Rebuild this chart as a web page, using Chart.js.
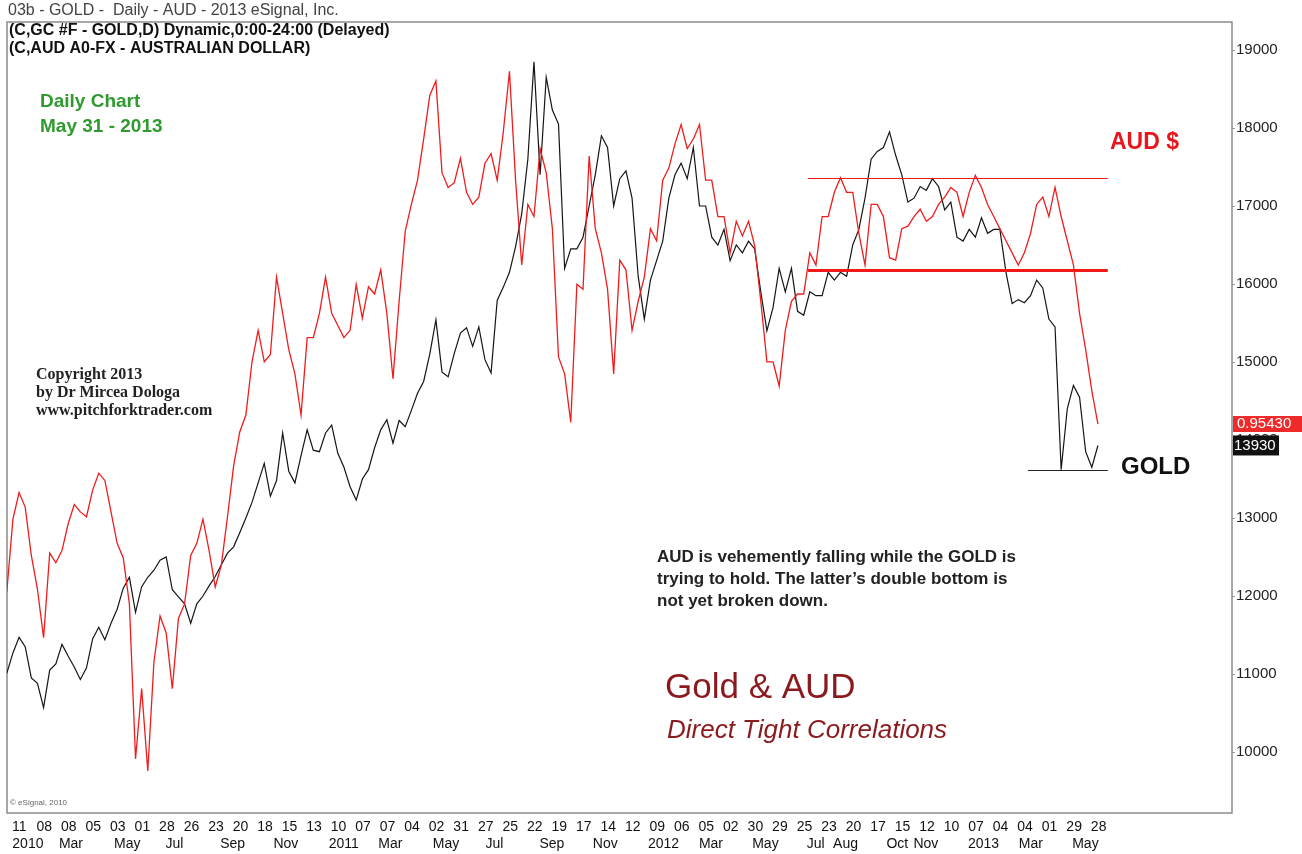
<!DOCTYPE html>
<html>
<head>
<meta charset="utf-8">
<script src="https://cdn.jsdelivr.net/npm/chart.js@4.4.1/dist/chart.umd.min.js"></script>
<style>
  html, body { margin: 0; padding: 0; background: #fff; }
  #wrap { width: 1302px; height: 854px; }
</style>
</head>
<body>
<div id="wrap"><canvas id="chart" width="1302" height="854"></canvas></div>
<script>
// weekly samples, first one sits 1.5 weeks before the "11" (Jan 11 2010) label
const firstWeek = -1.5;

// GC #F, in the chart's axis units (price x 10)
const goldWeekly = [
  11010, 11270, 11470, 11350, 10950, 10880, 10570, 11050, 11130, 11380,
  11230, 11090, 10930, 11080, 11450, 11600, 11440, 11650, 11830, 12100,
  12240, 11790, 12120, 12240, 12330, 12460, 12500, 12080, 11990, 11900,
  11650, 11900, 12000, 12130, 12250, 12400, 12550, 12630, 12810, 13000,
  13200, 13450, 13700, 13280, 13480, 14090, 13600, 13450, 13800, 14130,
  13870, 13850, 14090, 14190, 13830, 13650, 13400, 13230, 13500, 13620,
  13900, 14130, 14260, 13960, 14250, 14170, 14380, 14600, 14750, 15100,
  15540, 14870, 14810, 15110, 15370, 15440, 15200, 15450, 15030, 14860,
  15790, 15960, 16150, 16480, 16900, 17600, 18850, 17400, 18650, 18230,
  18050, 16200, 16450, 16450, 16600, 17000, 17400, 17900, 17750, 17000,
  17350, 17450, 17100, 16100, 15550, 16050, 16300, 16550, 17100, 17400,
  17550, 17350, 17750, 17000, 17000, 16600, 16500, 16700, 16300, 16500,
  16400, 16550, 16450, 15900, 15400, 15700, 16200, 15900, 16200, 15650,
  15600, 15900, 15850, 15850, 16150, 16050, 16150, 16100, 16500, 16700,
  17100, 17600, 17700, 17750, 17950, 17650, 17400, 17050, 17100, 17250,
  17200, 17350, 17250, 16950, 17050, 16600, 16550, 16700, 16600, 16850,
  16650, 16700, 16700, 16150, 15750, 15800, 15760, 15850, 16050, 15950,
  15550, 15450, 13620, 14400, 14700, 14550, 13850, 13650, 13930
];

// AUD A0-FX
const audWeekly = [
  0.885, 0.915, 0.926, 0.920, 0.900, 0.886, 0.866, 0.901, 0.897, 0.902,
  0.913, 0.921, 0.918, 0.916, 0.927, 0.934, 0.931, 0.918, 0.905, 0.899,
  0.880, 0.816, 0.845, 0.811, 0.856, 0.875, 0.868, 0.845, 0.874, 0.880,
  0.900, 0.905, 0.915, 0.902, 0.887, 0.896, 0.916, 0.937, 0.951, 0.958,
  0.980, 0.993, 0.980, 0.983, 1.015, 1.000, 0.985, 0.975, 0.958, 0.990,
  0.990, 1.000, 1.015, 1.000, 0.995, 0.990, 0.993, 1.012, 0.998, 1.011,
  1.008, 1.018, 1.000, 0.973, 1.005, 1.034, 1.045, 1.055, 1.072, 1.090,
  1.096, 1.058, 1.052, 1.054, 1.064, 1.050, 1.045, 1.048, 1.062, 1.066,
  1.055, 1.075, 1.100, 1.055, 1.020, 1.045, 1.040, 1.068, 1.058, 1.035,
  0.982, 0.975, 0.955, 1.012, 1.010, 1.065, 1.035, 1.025, 1.010, 0.975,
  1.022, 1.018, 0.993, 1.005, 1.015, 1.035, 1.030, 1.055, 1.060, 1.070,
  1.078, 1.068, 1.072, 1.078, 1.055, 1.055, 1.040, 1.040, 1.025, 1.038,
  1.032, 1.038, 1.028, 1.005, 0.980, 0.980, 0.970, 0.993, 1.005, 1.008,
  1.008, 1.025, 1.020, 1.040, 1.040, 1.050, 1.056, 1.050, 1.050, 1.033,
  1.020, 1.045, 1.045, 1.040, 1.023, 1.022, 1.035, 1.036, 1.040, 1.043,
  1.038, 1.040, 1.045, 1.048, 1.052, 1.050, 1.040, 1.050, 1.057, 1.052,
  1.045, 1.040, 1.035, 1.030, 1.025, 1.020, 1.025, 1.033, 1.045, 1.048,
  1.040, 1.052, 1.040, 1.030, 1.020, 1.000, 0.985, 0.968, 0.9543
];

// date row (every 4 weeks) and month row of the time axis
const dayLabels = ['11','08','08','05','03','01','28','26','23','20','18','15','13',
  '10','07','07','04','02','31','27','25','22','19','17','14','12',
  '09','06','05','02','30','29','25','23','20','17','15','12','10',
  '07','04','04','01','29','28'];
const monthLabels = ['2010','Mar','May','Jul','Sep','Nov','2011','Mar','May','Jul','Sep','Nov',
  '2012','Mar','May','Jul','Aug','Oct','Nov','2013','Mar','May'];
const monthWeeks = [-0.6, 7.0, 16.0, 24.4, 33.3, 42.0, 51.0, 59.1, 68.0, 76.6, 85.4, 94.1,
  103.1, 111.4, 120.1, 129.0, 133.3, 142.0, 146.4, 155.3, 163.6, 172.3];
const goldTicks = [10000, 11000, 12000, 13000, 14000, 15000, 16000, 17000, 18000, 19000];

// hand drawn levels
const audChannel = [1.056, 1.018];
const channelSpan = [129.2, 178.1];
const goldFloor = 13616;
const floorSpan = [165.1, 178.1];

const FONT = "'Liberation Sans', Arial, sans-serif";

const overlay = {
  id: 'overlay',
  beforeDatasetsDraw(chart) {
    const { ctx, chartArea: a } = chart;
    ctx.save();
    ctx.strokeStyle = '#8c8c8c';
    ctx.lineWidth = 1.5;
    ctx.strokeRect(a.left, a.top, a.right - a.left, a.bottom - a.top);
    ctx.restore();
  },
  afterDatasetsDraw(chart) {
    const { ctx, scales } = chart;
    const x = scales.x, y2 = scales.y2, y = scales.y;
    ctx.save();
    ctx.strokeStyle = '#f01818';
    audChannel.forEach((v, i) => {
      ctx.lineWidth = i === 0 ? 1.2 : 3;
      const py = Math.round(y2.getPixelForValue(v)) + 0.5;
      ctx.beginPath();
      ctx.moveTo(x.getPixelForValue(channelSpan[0]), py);
      ctx.lineTo(x.getPixelForValue(channelSpan[1]), py);
      ctx.stroke();
    });
    ctx.strokeStyle = '#222';
    ctx.lineWidth = 1.2;
    const gy = Math.round(y.getPixelForValue(goldFloor)) + 0.5;
    ctx.beginPath();
    ctx.moveTo(x.getPixelForValue(floorSpan[0]), gy);
    ctx.lineTo(x.getPixelForValue(floorSpan[1]), gy);
    ctx.stroke();
    ctx.restore();
  },
  afterDraw(chart) {
    const { ctx, chartArea: a, scales } = chart;
    ctx.save();
    ctx.textBaseline = 'middle';
    ctx.textAlign = 'left';

    // header
    ctx.fillStyle = '#444';
    ctx.font = '16px ' + FONT;
    ctx.fillText('03b - GOLD -  Daily - AUD - 2013 eSignal, Inc.', 8, 11);
    ctx.fillStyle = '#111';
    ctx.font = 'bold 16px ' + FONT;
    ctx.fillText('(C,GC #F - GOLD,D) Dynamic,0:00-24:00 (Delayed)', 9, 31);
    ctx.fillText('(C,AUD A0-FX - AUSTRALIAN DOLLAR)', 9, 49);

    ctx.fillStyle = '#2f9a2f';
    ctx.font = 'bold 19px ' + FONT;
    ctx.fillText('Daily Chart', 40, 102);
    ctx.fillText('May 31 - 2013', 40, 127);

    ctx.fillStyle = '#222';
    ctx.font = "bold 16px 'Liberation Serif', 'Times New Roman', serif";
    ctx.fillText('Copyright 2013', 36, 375);
    ctx.fillText('by Dr Mircea Dologa', 36, 393);
    ctx.fillText('www.pitchforktrader.com', 36, 411);

    ctx.fillStyle = '#e8161c';
    ctx.font = 'bold 23px ' + FONT;
    ctx.fillText('AUD $', 1110, 143);
    ctx.fillStyle = '#111';
    ctx.font = 'bold 24px ' + FONT;
    ctx.fillText('GOLD', 1121, 467);

    ctx.fillStyle = '#222';
    ctx.font = 'bold 17px ' + FONT;
    ctx.fillText('AUD is vehemently falling while the GOLD is', 657, 557);
    ctx.fillText('trying to hold. The latter\u2019s double bottom is', 657, 579);
    ctx.fillText('not yet broken down.', 657, 601);

    ctx.fillStyle = '#8b1a1e';
    ctx.font = '35px ' + FONT;
    ctx.fillText('Gold & AUD', 665, 688);
    ctx.font = 'italic 26px ' + FONT;
    ctx.fillText('Direct Tight Correlations', 667, 731);

    ctx.fillStyle = '#666';
    ctx.font = '8px ' + FONT;
    ctx.fillText('\u00a9 eSignal, 2010', 10, 803);

    // last value boxes on the price axis
    const audLast = audWeekly[audWeekly.length - 1];
    const goldLast = goldWeekly[goldWeekly.length - 1];
    const ay = scales.y2.getPixelForValue(audLast);
    const gy = scales.y.getPixelForValue(goldLast);
    ctx.fillStyle = '#ee2a2a';
    ctx.fillRect(a.right + 1, ay - 8, 70, 16);
    ctx.fillStyle = '#111';
    ctx.fillRect(a.right + 1, gy - 10, 46, 20);
    ctx.font = '15px ' + FONT;
    ctx.fillStyle = '#fff';
    ctx.fillText(audLast.toFixed(5), a.right + 5, ay);
    ctx.fillText(String(goldLast), a.right + 2, gy);
    ctx.restore();
  }
};

new Chart(document.getElementById('chart'), {
  type: 'line',
  data: {
    datasets: [
      {
        label: 'GOLD',
        data: goldWeekly.map((v, i) => ({ x: firstWeek + i, y: v })),
        xAxisID: 'x',
        yAxisID: 'y',
        borderColor: '#151515',
        borderWidth: 1.2,
        pointRadius: 0,
        tension: 0,
        order: 2
      },
      {
        label: 'AUD',
        data: audWeekly.map((v, i) => ({ x: firstWeek + i, y: v })),
        xAxisID: 'x',
        yAxisID: 'y2',
        borderColor: '#f01c1c',
        borderWidth: 1.3,
        pointRadius: 0,
        tension: 0,
        order: 1
      }
    ]
  },
  options: {
    responsive: false,
    animation: false,
    devicePixelRatio: 1,
    layout: { padding: { top: 22, left: 7, right: 0, bottom: 0 } },
    plugins: {
      legend: { display: false },
      tooltip: { enabled: false }
    },
    scales: {
      x: {
        type: 'linear',
        position: 'bottom',
        weight: 0,
        min: -1.468,
        max: 198.37,
        afterBuildTicks: (s) => { s.ticks = dayLabels.map((_, i) => ({ value: i * 4 })); },
        afterFit: (s) => { s.height = 22; },
        grid: { display: false, drawTicks: false },
        border: { display: false },
        ticks: {
          autoSkip: false,
          maxRotation: 0,
          align: 'start',
          labelOffset: -4,
          padding: 6,
          color: '#111',
          font: { family: FONT, size: 14 },
          callback: (v, i) => dayLabels[i]
        }
      },
      x2: {
        type: 'linear',
        position: 'bottom',
        weight: 1,
        min: -1.468,
        max: 198.37,
        afterBuildTicks: (s) => { s.ticks = monthWeeks.map(w => ({ value: w })); },
        afterFit: (s) => { s.height = 19; },
        grid: { display: false, drawTicks: false },
        border: { display: false },
        ticks: {
          autoSkip: false,
          maxRotation: 0,
          align: 'start',
          padding: 1,
          color: '#111',
          font: { family: FONT, size: 14 },
          callback: (v, i) => monthLabels[i]
        }
      },
      y: {
        type: 'linear',
        position: 'right',
        min: 9218,
        max: 19359,
        afterBuildTicks: (s) => { s.ticks = goldTicks.map(v => ({ value: v })); },
        afterFit: (s) => { s.width = 70; },
        grid: { drawOnChartArea: false, drawTicks: true, tickLength: 3, color: '#999' },
        border: { display: false },
        ticks: {
          padding: 1,
          color: '#222',
          font: { family: FONT, size: 15 },
          callback: (v) => String(v)
        }
      },
      y2: {
        type: 'linear',
        display: false,
        min: 0.79363,
        max: 1.12035
      }
    }
  },
  plugins: [overlay]
});
</script>
</body>
</html>
